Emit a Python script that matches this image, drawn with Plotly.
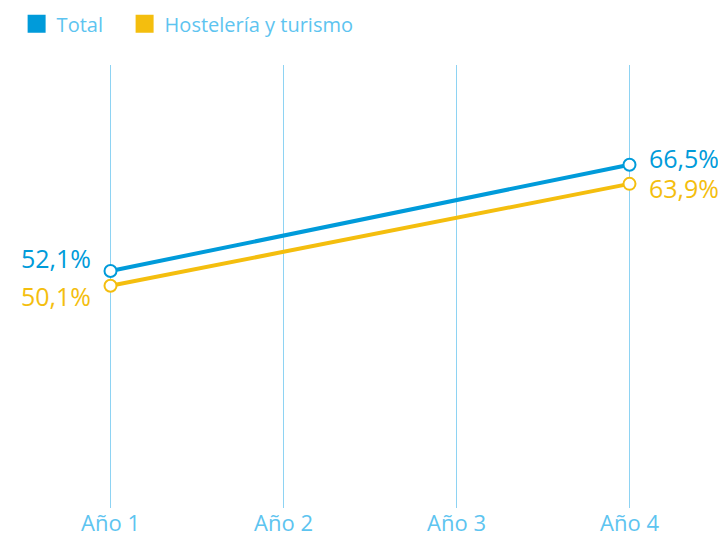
import plotly.graph_objects as go

categories = ["Año 1", "Año 2", "Año 3", "Año 4"]
total_x = ["Año 1", "Año 4"]
total_vals = [52.1, 66.5]
host_x = ["Año 1", "Año 4"]
host_vals = [50.1, 63.9]
series_names = ["Total", "Hostelería y turismo"]

BLUE = "#009BDA"
YELLOW = "#F4BE0E"
LIGHT = "#5DC4F0"
GRID = "#8ED3F3"
FONT = "Open Sans"

def fmt(v):
    return f"{v:.1f}".replace(".", ",") + "%"

fig = go.Figure()
for name, xs, ys, col, lg in [(series_names[0], total_x, total_vals, BLUE, "legend"),
                              (series_names[1], host_x, host_vals, YELLOW, "legend2")]:
    fig.add_trace(go.Scatter(
        x=xs, y=ys, mode="lines+markers", showlegend=False,
        line=dict(color=col, width=4),
        marker=dict(symbol="circle", size=12, color="white", line=dict(color=col, width=2)),
        cliponaxis=False, hoverinfo="skip"))
    fig.add_trace(go.Scatter(
        x=[None], y=[None], mode="markers", name=name, legend=lg,
        marker=dict(symbol="square", size=16, color=col, line=dict(width=2, color=col))))

# labels
ann = []
for xs, ys, col, shifts in [(total_x, total_vals, BLUE, (13, 7)),
                            (host_x, host_vals, YELLOW, (-10, -4))]:
    for i, (x, y) in enumerate(zip(xs, ys)):
        left = i == 0
        ann.append(dict(x=x, y=y, text=fmt(y), showarrow=False,
                        xanchor="right" if left else "left",
                        xshift=-18 if left else 17,
                        yshift=shifts[0] if left else shifts[1],
                        font=dict(family=FONT, size=25, color=col)))

legend_common = dict(orientation="h", xanchor="left", y=1.137, yref="paper",
                     yanchor="top", xref="container",
                     font=dict(family=FONT, size=20, color=LIGHT),
                     itemsizing="trace", bgcolor="rgba(0,0,0,0)")

fig.update_layout(
    width=718, height=531,
    margin=dict(l=16, r=10, t=57, b=31, autoexpand=False),
    paper_bgcolor="white", plot_bgcolor="white",
    font=dict(family=FONT, color=LIGHT),
    annotations=ann,
    legend=dict(x=0.012, **legend_common),
    legend2=dict(x=0.1624, **legend_common),
    xaxis=dict(type="category", categoryorder="array", categoryarray=categories,
               range=[-0.5, 3.5], showgrid=True, gridcolor=GRID, gridwidth=1,
               showline=False, zeroline=False, ticks="",
               tickfont=dict(family=FONT, size=22, color=LIGHT)),
    yaxis=dict(range=[20, 80], visible=False, showgrid=False, zeroline=False),
)
fig.write_html("out.html")
